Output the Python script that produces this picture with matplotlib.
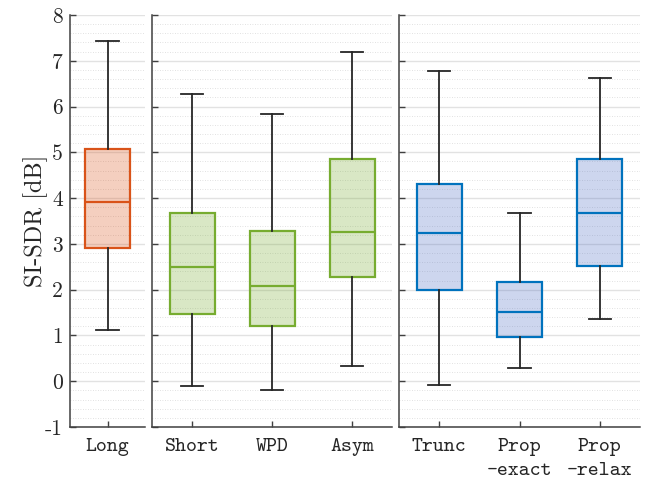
import matplotlib
matplotlib.use("Agg")
import matplotlib.pyplot as plt
from matplotlib.ticker import MultipleLocator

# ---- data ----
groups = [["Long"], ["Short", "WPD", "Asym"], ["Trunc", "Prop\n-exact", "Prop\n-relax"]]
whislo = [[1.11], [-0.10, -0.19, 0.34], [-0.08, 0.28, 1.37]]
q1     = [[2.92], [1.47, 1.21, 2.27], [1.99, 0.97, 2.51]]
med    = [[3.92], [2.49, 2.09, 3.25], [3.24, 1.51, 3.68]]
q3     = [[5.08], [3.67, 3.29, 4.85], [4.31, 2.16, 4.86]]
whishi = [[7.43], [6.27, 5.84, 7.20], [6.77, 3.67, 6.62]]
edge_colors = ["#D95319", "#77AC30", "#0072BD"]
fill_colors = ["#D95319", "#77AC30", "#4D6EC4"]
yticks = [-1, 0, 1, 2, 3, 4, 5, 6, 7, 8]
ytick_labels = ["-1", "0", "1", "2", "3", "4", "5", "6", "7", "8"]

fig = plt.figure(figsize=(6.57, 4.83), dpi=100)
H = 483.0
W = 657.0
bottom = (H - 427) / H
height = (427 - 15) / H
panels = [(70, 75), (152, 240), (399, 241)]
spine_c = "#404040"

for gi, (x0, w) in enumerate(panels):
    ax = fig.add_axes([x0 / W, bottom, w / W, height])
    n = len(groups[gi])
    stats = []
    for i in range(n):
        stats.append(dict(whislo=whislo[gi][i], q1=q1[gi][i], med=med[gi][i],
                          q3=q3[gi][i], whishi=whishi[gi][i], fliers=[], label=groups[gi][i]))
    bw = 45.0 / (w / n)
    pos = list(range(1, n + 1))
    bp = ax.bxp(stats, positions=pos, widths=bw, patch_artist=True, showfliers=False,
                boxprops=dict(edgecolor=edge_colors[gi], linewidth=1.6),
                medianprops=dict(color=edge_colors[gi], linewidth=1.6),
                whiskerprops=dict(color="#262626", linewidth=1.3),
                capprops=dict(color="#262626", linewidth=1.3), capwidths=bw * 0.5)
    for b in bp["boxes"]:
        b.set_facecolor(matplotlib.colors.to_rgba(fill_colors[gi], 0.28))
        b.set_zorder(3)
    for k in ("medians", "whiskers", "caps"):
        for l in bp[k]:
            l.set_zorder(4)
    ax.set_xlim(0.5, n + 0.5)
    ax.set_ylim(-1, 8)
    ax.set_yticks(yticks)
    ax.yaxis.set_minor_locator(MultipleLocator(0.2))
    ax.grid(True, which="major", axis="y", color="#e2e2e2", linewidth=1.0, zorder=0)
    ax.grid(True, which="minor", axis="y", color="#d8d8d8", linewidth=0.6,
            linestyle=(0, (1, 2)), zorder=0)
    ax.set_axisbelow(True)
    for s in ("top", "right"):
        ax.spines[s].set_visible(False)
    for s in ("left", "bottom"):
        ax.spines[s].set_color(spine_c)
        ax.spines[s].set_linewidth(1.1)
    ax.tick_params(axis="both", which="major", direction="in", length=4, color=spine_c, width=1.0)
    ax.tick_params(axis="y", which="minor", length=0)
    ax.set_xticks(pos)
    ax.set_xticklabels(groups[gi], family="cmtt10", fontsize=15, color="#262626",
                       linespacing=1.45, va="top")
    ax.tick_params(axis="x", pad=8)
    if gi == 0:
        ax.set_yticklabels(ytick_labels, family="cmr10", fontsize=15.5, color="#262626")
        ax.tick_params(axis="y", pad=5)
        ax.set_ylabel("SI-SDR [dB]", family="cmr10", fontsize=17.5, color="#262626", labelpad=-2)
    else:
        ax.set_yticklabels([])

fig.savefig("out.png", dpi=100)
